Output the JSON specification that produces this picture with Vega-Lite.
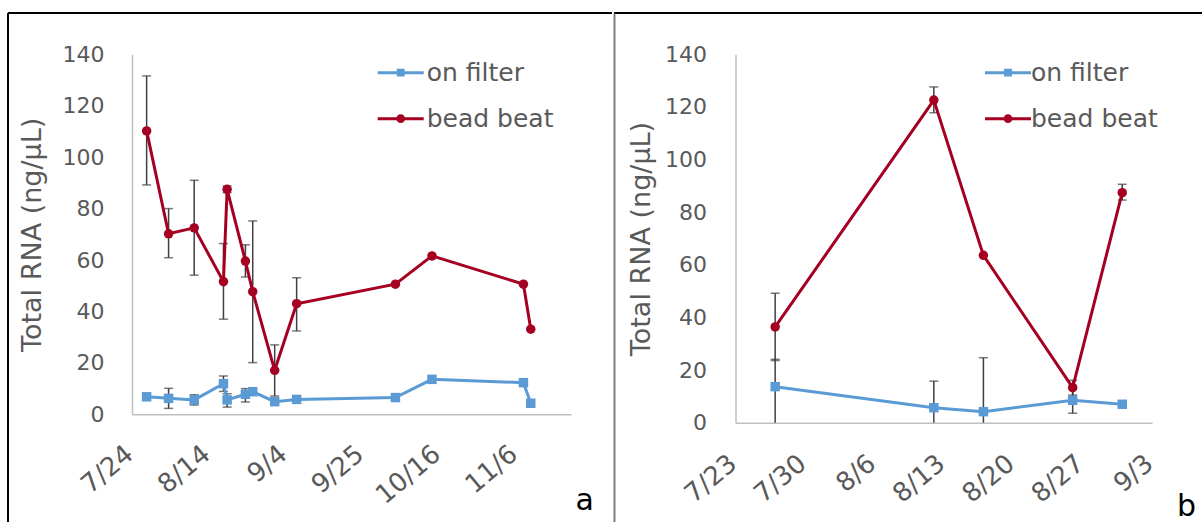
{
  "$schema": "https://vega.github.io/schema/vega-lite/v6.json",
  "background": "white",
  "padding": {"left": 7, "top": 12, "right": 0, "bottom": 0},
  "spacing": 0,
  "config": {
    "font": "DejaVu Sans",
    "axis": {"labelColor": "#595959", "titleColor": "#595959", "labelFont": "DejaVu Sans", "titleFont": "DejaVu Sans", "titleFontWeight": "normal", "domainColor": "#BFBFBF", "domainWidth": 1.5, "ticks": false, "grid": false},
    "legend": {"labelFont": "DejaVu Sans"}
  },
  "datasets": {
    "a": [
      {"date": "2013-07-28", "series": "bead beat", "value": 110.2, "lo": 89.2, "hi": 131.6},
      {"date": "2013-08-03", "series": "bead beat", "value": 70.2, "lo": 60.9, "hi": 80.0},
      {"date": "2013-08-10", "series": "bead beat", "value": 72.5, "lo": 54.1, "hi": 91.0},
      {"date": "2013-08-18", "series": "bead beat", "value": 51.6, "lo": 37.0, "hi": 66.4},
      {"date": "2013-08-19", "series": "bead beat", "value": 87.5, "lo": 86.2, "hi": 88.8},
      {"date": "2013-08-24", "series": "bead beat", "value": 59.6, "lo": 53.4, "hi": 65.9},
      {"date": "2013-08-26", "series": "bead beat", "value": 47.7, "lo": 20.1, "hi": 75.2},
      {"date": "2013-09-01", "series": "bead beat", "value": 17.1, "lo": 7.1, "hi": 27.0},
      {"date": "2013-09-07", "series": "bead beat", "value": 43.0, "lo": 32.4, "hi": 53.1},
      {"date": "2013-10-04", "series": "bead beat", "value": 50.6, "lo": null, "hi": null},
      {"date": "2013-10-14", "series": "bead beat", "value": 61.6, "lo": null, "hi": null},
      {"date": "2013-11-08", "series": "bead beat", "value": 50.6, "lo": null, "hi": null},
      {"date": "2013-11-10", "series": "bead beat", "value": 33.1, "lo": null, "hi": null},
      {"date": "2013-07-28", "series": "on filter", "value": 6.8, "lo": null, "hi": null},
      {"date": "2013-08-03", "series": "on filter", "value": 6.2, "lo": 2.3, "hi": 10.1},
      {"date": "2013-08-10", "series": "on filter", "value": 5.6, "lo": 3.6, "hi": 7.6},
      {"date": "2013-08-18", "series": "on filter", "value": 11.9, "lo": 8.9, "hi": 14.9},
      {"date": "2013-08-19", "series": "on filter", "value": 5.6, "lo": 2.8, "hi": 8.0},
      {"date": "2013-08-24", "series": "on filter", "value": 7.8, "lo": 4.8, "hi": 10.0},
      {"date": "2013-08-26", "series": "on filter", "value": 8.8, "lo": null, "hi": null},
      {"date": "2013-09-01", "series": "on filter", "value": 4.9, "lo": null, "hi": null},
      {"date": "2013-09-07", "series": "on filter", "value": 5.8, "lo": null, "hi": null},
      {"date": "2013-10-04", "series": "on filter", "value": 6.5, "lo": null, "hi": null},
      {"date": "2013-10-14", "series": "on filter", "value": 13.6, "lo": null, "hi": null},
      {"date": "2013-11-08", "series": "on filter", "value": 12.3, "lo": null, "hi": null},
      {"date": "2013-11-10", "series": "on filter", "value": 4.3, "lo": null, "hi": null}
    ],
    "b": [
      {"date": "2013-07-27", "series": "bead beat", "value": 36.4, "lo": 23.6, "hi": 49.2},
      {"date": "2013-08-12", "series": "bead beat", "value": 122.6, "lo": 117.8, "hi": 127.6},
      {"date": "2013-08-17", "series": "bead beat", "value": 63.6, "lo": null, "hi": null},
      {"date": "2013-08-26", "series": "bead beat", "value": 13.3, "lo": 10.5, "hi": 16.1},
      {"date": "2013-08-31", "series": "bead beat", "value": 87.4, "lo": 84.6, "hi": 90.6},
      {"date": "2013-07-27", "series": "on filter", "value": 13.7, "lo": 0, "hi": 24.1},
      {"date": "2013-08-12", "series": "on filter", "value": 5.7, "lo": 0, "hi": 15.8},
      {"date": "2013-08-17", "series": "on filter", "value": 4.2, "lo": 0, "hi": 24.7},
      {"date": "2013-08-26", "series": "on filter", "value": 8.5, "lo": 3.6, "hi": 13.4},
      {"date": "2013-08-31", "series": "on filter", "value": 7.0, "lo": null, "hi": null}
    ]
  },
  "resolve": {"scale": {"color": "independent"}, "legend": {"color": "independent"}},
  "hconcat": [
    {
      "width": 604,
      "height": 510,
      "view": {"stroke": "black", "strokeWidth": 2, "strokeDash": [604, 1114, 510, 0]},
      "title": {"text": "a", "orient": "bottom", "anchor": "end", "frame": "group", "fontSize": 30, "color": "#000000", "fontWeight": "normal", "baseline": "alphabetic", "offset": -13, "dx": -18},
      "data": {"name": "a"},
      "encoding": {
        "x": {
          "field": "date", "type": "temporal",
          "scale": {"type": "utc", "nice": false, "domain": [{"year": 2013, "month": 7, "date": 24, "utc": true}, {"year": 2013, "month": 11, "date": 21, "utc": true}], "range": [124, 563]},
          "axis": {
            "title": null, "format": "%-m/%-d", "labelAngle": -40, "labelFontSize": 26, "labelPadding": 26, "labelOffset": -11, "offset": -108.7,
            "values": [
              {"year": 2013, "month": 7, "date": 24, "utc": true},
              {"year": 2013, "month": 8, "date": 14, "utc": true},
              {"year": 2013, "month": 9, "date": 4, "utc": true},
              {"year": 2013, "month": 9, "date": 25, "utc": true},
              {"year": 2013, "month": 10, "date": 16, "utc": true},
              {"year": 2013, "month": 11, "date": 6, "utc": true}
            ]
          }
        }
      },
      "layer": [
        {
          "transform": [{"filter": "isValid(datum.hi)"}],
          "mark": {"type": "rule", "color": "#404040", "strokeWidth": 1.5},
          "encoding": {
            "y": {"field": "lo", "type": "quantitative", "title": "Total RNA (ng/µL)", "scale": {"domain": [0, 140], "range": [401.3, 41.3], "nice": false, "zero": false}},
            "y2": {"field": "hi"}
          }
        },
        {
          "transform": [{"filter": "isValid(datum.hi)"}],
          "mark": {"type": "tick", "orient": "horizontal", "color": "#404040", "size": 9, "thickness": 1.5},
          "encoding": {
            "y": {"field": "hi", "type": "quantitative", "title": "Total RNA (ng/µL)", "scale": {"domain": [0, 140], "range": [401.3, 41.3], "nice": false, "zero": false}}
          }
        },
        {
          "transform": [{"filter": "isValid(datum.lo) && datum.lo > 0"}],
          "mark": {"type": "tick", "orient": "horizontal", "color": "#404040", "size": 9, "thickness": 1.5},
          "encoding": {
            "y": {"field": "lo", "type": "quantitative", "title": "Total RNA (ng/µL)", "scale": {"domain": [0, 140], "range": [401.3, 41.3], "nice": false, "zero": false}}
          }
        },
        {
          "mark": {"type": "line", "strokeWidth": 3},
          "encoding": {
            "y": {
              "field": "value", "type": "quantitative", "title": "Total RNA (ng/µL)",
              "scale": {"domain": [0, 140], "range": [401.3, 41.3], "nice": false, "zero": false},
              "axis": {"orient": "left", "offset": -124, "values": [0, 20, 40, 60, 80, 100, 120, 140], "labelFontSize": 22, "labelPadding": 28, "titleFontSize": 27, "titlePadding": 16}
            },
            "color": {
              "field": "series", "type": "nominal",
              "scale": {"domain": ["on filter", "bead beat"], "range": ["#5B9BD5", "#A50021"]},
              "legend": {
                "orient": "none", "legendX": 369.7, "legendY": 36.7, "title": null, "padding": 0,
                "symbolSize": 2116, "labelFontSize": 25, "labelColor": "#595959", "labelOffset": 3, "rowPadding": 10,
                "encode": {"symbols": {"update": {
                  "shape": {"signal": "datum.value === 'on filter' ? 'M-1,-0.065H1V0.065H-1Z M-0.17,-0.17H0.17V0.17H-0.17Z' : 'M-1,-0.065H1V0.065H-1Z M-0.19,0A0.19,0.19 0 1,1 0.19,0A0.19,0.19 0 1,1 -0.19,0Z'"},
                  "fill": {"signal": "datum.value === 'on filter' ? '#5B9BD5' : '#A50021'"},
                  "stroke": {"value": "transparent"},
                  "strokeWidth": {"value": 0},
                  "opacity": {"value": 1}
                }}}
              }
            }
          }
        },
        {
          "transform": [{"filter": "datum.series === 'on filter'"}],
          "mark": {"type": "point", "shape": "square", "filled": true, "opacity": 1, "size": 90},
          "encoding": {
            "y": {"field": "value", "type": "quantitative", "title": "Total RNA (ng/µL)", "scale": {"domain": [0, 140], "range": [401.3, 41.3], "nice": false, "zero": false}},
            "color": {"field": "series", "type": "nominal", "scale": {"domain": ["on filter", "bead beat"], "range": ["#5B9BD5", "#A50021"]}}
          }
        },
        {
          "transform": [{"filter": "datum.series === 'bead beat'"}],
          "mark": {"type": "point", "shape": "circle", "filled": true, "opacity": 1, "size": 90},
          "encoding": {
            "y": {"field": "value", "type": "quantitative", "title": "Total RNA (ng/µL)", "scale": {"domain": [0, 140], "range": [401.3, 41.3], "nice": false, "zero": false}},
            "color": {"field": "series", "type": "nominal", "scale": {"domain": ["on filter", "bead beat"], "range": ["#5B9BD5", "#A50021"]}}
          }
        }
      ]
    },
    {
      "width": 591,
      "height": 510,
      "view": {"stroke": "black", "strokeWidth": 2, "strokeDash": [591, 2000]},
      "title": {"text": "b", "orient": "bottom", "anchor": "end", "frame": "group", "fontSize": 30, "color": "#000000", "fontWeight": "normal", "baseline": "alphabetic", "offset": -7, "dx": -9},
      "data": {"name": "b"},
      "encoding": {
        "x": {
          "field": "date", "type": "temporal",
          "scale": {"type": "utc", "nice": false, "domain": [{"year": 2013, "month": 7, "date": 23, "utc": true}, {"year": 2013, "month": 9, "date": 3, "utc": true}], "range": [121.5, 538]},
          "axis": {
            "title": null, "format": "%-m/%-d", "labelAngle": -40, "labelFontSize": 26, "labelPadding": 27, "labelOffset": -11, "offset": -100.3,
            "values": [
              {"year": 2013, "month": 7, "date": 23, "utc": true},
              {"year": 2013, "month": 7, "date": 30, "utc": true},
              {"year": 2013, "month": 8, "date": 6, "utc": true},
              {"year": 2013, "month": 8, "date": 13, "utc": true},
              {"year": 2013, "month": 8, "date": 20, "utc": true},
              {"year": 2013, "month": 8, "date": 27, "utc": true},
              {"year": 2013, "month": 9, "date": 3, "utc": true}
            ]
          }
        }
      },
      "layer": [
        {
          "layer": [
            {
              "transform": [{"filter": "isValid(datum.hi)"}],
              "mark": {"type": "rule", "color": "#404040", "strokeWidth": 1.5},
              "encoding": {
                "y": {"field": "lo", "type": "quantitative", "title": "Total RNA (ng/µL)", "scale": {"domain": [0, 140], "range": [409.7, 41.3], "nice": false, "zero": false}},
                "y2": {"field": "hi"}
              }
            },
            {
              "transform": [{"filter": "isValid(datum.hi)"}],
              "mark": {"type": "tick", "orient": "horizontal", "color": "#404040", "size": 9, "thickness": 1.5},
              "encoding": {
                "y": {"field": "hi", "type": "quantitative", "title": "Total RNA (ng/µL)", "scale": {"domain": [0, 140], "range": [409.7, 41.3], "nice": false, "zero": false}}
              }
            },
            {
              "transform": [{"filter": "isValid(datum.lo) && datum.lo > 0"}],
              "mark": {"type": "tick", "orient": "horizontal", "color": "#404040", "size": 9, "thickness": 1.5},
              "encoding": {
                "y": {"field": "lo", "type": "quantitative", "title": "Total RNA (ng/µL)", "scale": {"domain": [0, 140], "range": [409.7, 41.3], "nice": false, "zero": false}}
              }
            },
            {
              "mark": {"type": "line", "strokeWidth": 3},
              "encoding": {
                "y": {
                  "field": "value", "type": "quantitative", "title": "Total RNA (ng/µL)",
                  "scale": {"domain": [0, 140], "range": [409.7, 41.3], "nice": false, "zero": false},
                  "axis": {"orient": "left", "offset": -121.5, "values": [0, 20, 40, 60, 80, 100, 120, 140], "labelFontSize": 22, "labelPadding": 29, "titleFontSize": 27, "titlePadding": 9}
                },
                "color": {
                  "field": "series", "type": "nominal",
                  "scale": {"domain": ["on filter", "bead beat"], "range": ["#5B9BD5", "#A50021"]},
                  "legend": {
                    "orient": "none", "legendX": 371, "legendY": 36.7, "title": null, "padding": 0,
                    "symbolSize": 2116, "labelFontSize": 25, "labelColor": "#595959", "labelOffset": 0, "rowPadding": 10,
                    "encode": {"symbols": {"update": {
                      "shape": {"signal": "datum.value === 'on filter' ? 'M-1,-0.065H1V0.065H-1Z M-0.17,-0.17H0.17V0.17H-0.17Z' : 'M-1,-0.065H1V0.065H-1Z M-0.19,0A0.19,0.19 0 1,1 0.19,0A0.19,0.19 0 1,1 -0.19,0Z'"},
                      "fill": {"signal": "datum.value === 'on filter' ? '#5B9BD5' : '#A50021'"},
                      "stroke": {"value": "transparent"},
                      "strokeWidth": {"value": 0},
                      "opacity": {"value": 1}
                    }}}
                  }
                }
              }
            },
            {
              "transform": [{"filter": "datum.series === 'on filter'"}],
              "mark": {"type": "point", "shape": "square", "filled": true, "opacity": 1, "size": 90},
              "encoding": {
                "y": {"field": "value", "type": "quantitative", "title": "Total RNA (ng/µL)", "scale": {"domain": [0, 140], "range": [409.7, 41.3], "nice": false, "zero": false}},
                "color": {"field": "series", "type": "nominal", "scale": {"domain": ["on filter", "bead beat"], "range": ["#5B9BD5", "#A50021"]}}
              }
            },
            {
              "transform": [{"filter": "datum.series === 'bead beat'"}],
              "mark": {"type": "point", "shape": "circle", "filled": true, "opacity": 1, "size": 90},
              "encoding": {
                "y": {"field": "value", "type": "quantitative", "title": "Total RNA (ng/µL)", "scale": {"domain": [0, 140], "range": [409.7, 41.3], "nice": false, "zero": false}},
                "color": {"field": "series", "type": "nominal", "scale": {"domain": ["on filter", "bead beat"], "range": ["#5B9BD5", "#A50021"]}}
              }
            }
          ]
        },
        {
          "mark": {"type": "point", "opacity": 0},
          "encoding": {
            "y": {
              "field": "value", "type": "quantitative",
              "scale": {"domain": [0, 140], "range": [510, 0], "nice": false, "zero": false},
              "axis": {"orient": "left", "offset": 0, "labels": false, "ticks": false, "title": null, "domainColor": "#7F7F7F", "domainWidth": 2}
            }
          }
        }
      ],
      "resolve": {"scale": {"y": "independent"}, "axis": {"y": "independent"}}
    }
  ]
}
